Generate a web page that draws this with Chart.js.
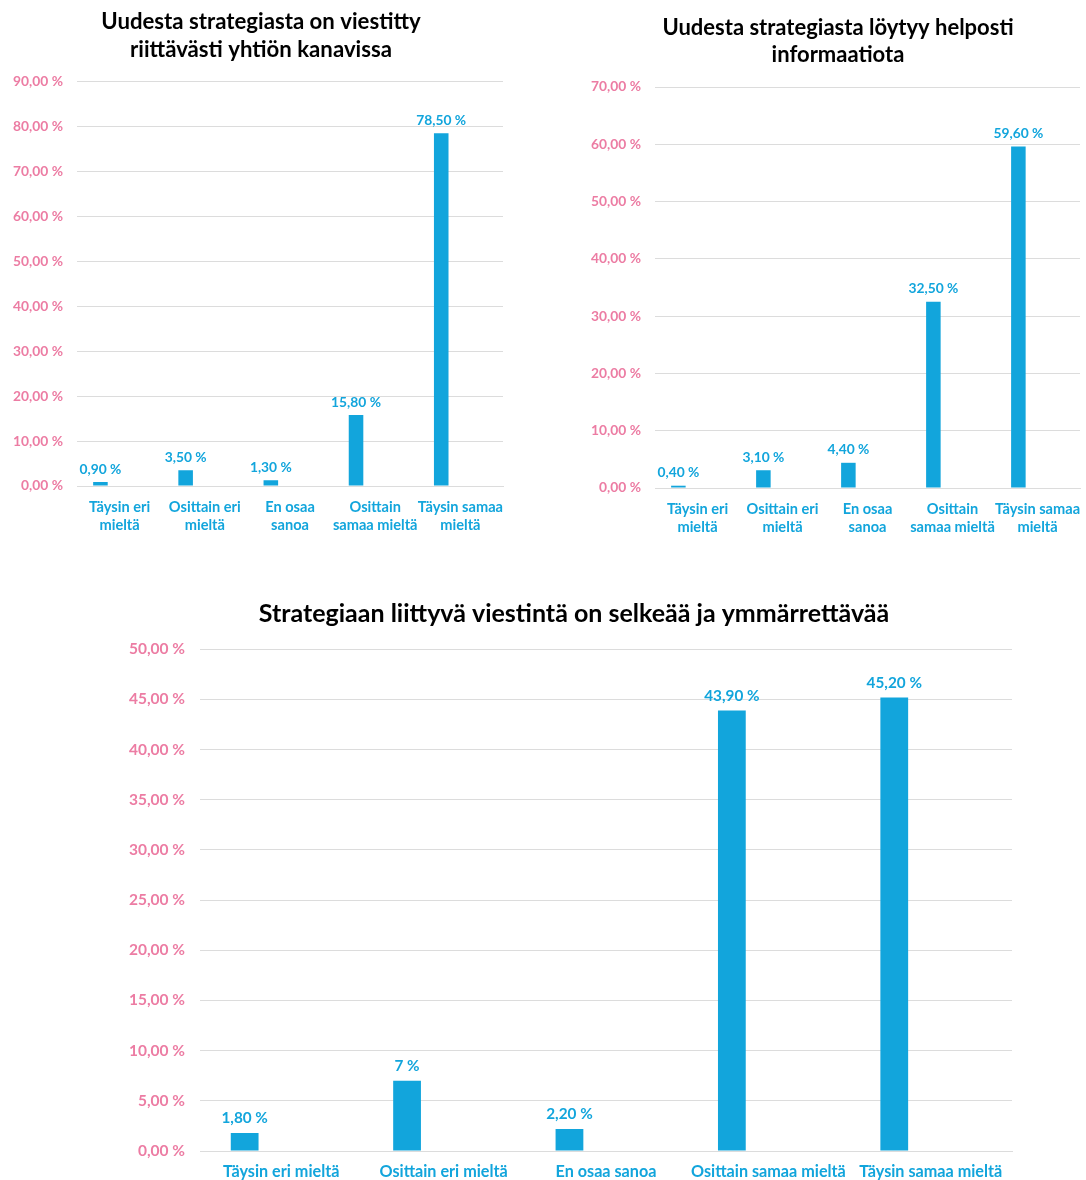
<!DOCTYPE html>
<html>
<head>
<meta charset="utf-8">
<script src="https://cdn.jsdelivr.net/npm/chart.js@4/dist/chart.umd.min.js"></script>
<style>
  html, body { margin: 0; padding: 0; background: #ffffff; }
  body { width: 1086px; height: 1180px; position: relative; overflow: hidden; }
  .box { position: absolute; }
</style>
</head>
<body>
<div class="box" style="left:0px;top:0px;width:520px;height:545px;"><canvas id="c1"></canvas></div>
<div class="box" style="left:560px;top:0px;width:526px;height:545px;"><canvas id="c2"></canvas></div>
<div class="box" style="left:0px;top:560px;width:1086px;height:620px;"><canvas id="c3"></canvas></div>
<script>
// ---- Data ----
const titles1 = ["Uudesta strategiasta on viestitty", "riittävästi yhtiön kanavissa"];
const titles2 = ["Uudesta strategiasta löytyy helposti", "informaatiota"];
const titles3 = "Strategiaan liittyvä viestintä on selkeää ja ymmärrettävää";

const categoriesTwoLine = [
  ["Täysin eri", "mieltä"],
  ["Osittain eri", "mieltä"],
  ["En osaa", "sanoa"],
  ["Osittain", "samaa mieltä"],
  ["Täysin samaa", "mieltä"]
];
const categoriesOneLine = ["Täysin eri mieltä", "Osittain eri mieltä", "En osaa sanoa", "Osittain samaa mieltä", "Täysin samaa mieltä"];

const values1 = [0.9, 3.5, 1.3, 15.8, 78.5];
const values2 = [0.4, 3.1, 4.4, 32.5, 59.6];
const values3 = [1.8, 7, 2.2, 43.9, 45.2];

const valueLabels1 = ["0,90 %", "3,50 %", "1,30 %", "15,80 %", "78,50 %"];
const valueLabels2 = ["0,40 %", "3,10 %", "4,40 %", "32,50 %", "59,60 %"];
const valueLabels3 = ["1,80 %", "7 %", "2,20 %", "43,90 %", "45,20 %"];

const emptySeries = [null, null, null, null, null];

// ---- Styling ----
const BLUE = "#12a5dc";
const PINK = "#ec7ca3";
const GRID = "#dcdcdc";
const FONT = "Lato, 'Open Sans', sans-serif";

const valueLabelPlugin = {
  id: 'valueLabels',
  afterDatasetsDraw(chart, args, opts) {
    const ctx = chart.ctx;
    const meta = chart.getDatasetMeta(0);
    const labels = opts.labels || [];
    ctx.save();
    ctx.fillStyle = BLUE;
    ctx.font = "bold " + opts.size + "px " + FONT;
    ctx.textAlign = "center";
    ctx.textBaseline = "bottom";
    meta.data.forEach((bar, i) => {
      ctx.fillText(labels[i], bar.x, bar.y - opts.offset);
    });
    ctx.restore();
  }
};

// shifts the title block horizontally so it is centred like the original
const titleShiftPlugin = {
  id: 'titleShift',
  afterLayout(chart, args, opts) {
    const tb = chart.titleBlock;
    if (tb && opts.dx) { tb.left += opts.dx; tb.right += opts.dx; }
  }
};

function fmtTick(v) {
  return v.toFixed(2).replace('.', ',') + ' %';
}

function makeChart(id, cfg) {
  return new Chart(document.getElementById(id), {
    type: 'bar',
    data: {
      labels: cfg.categories,
      datasets: [
        { label: 'Sarja 1', data: cfg.values, backgroundColor: BLUE, borderWidth: 0,
          categoryPercentage: 0.9, barPercentage: 0.38 },
        { label: 'Sarja 2', data: emptySeries, backgroundColor: BLUE, borderWidth: 0,
          categoryPercentage: 0.9, barPercentage: 0.38 }
      ]
    },
    options: {
      responsive: true,
      maintainAspectRatio: false,
      animation: false,
      layout: { padding: cfg.padding },
      plugins: {
        legend: { display: false },
        tooltip: { enabled: false },
        title: {
          display: true,
          text: cfg.title,
          color: '#000000',
          font: { family: FONT, size: cfg.titleSize, weight: 'bold', lineHeight: cfg.titleLH },
          padding: cfg.titlePadding
        },
        titleShift: { dx: cfg.titleDx },
        valueLabels: { labels: cfg.valueLabels, size: cfg.valueSize, offset: cfg.labelOffset }
      },
      scales: {
        x: {
          grid: { display: false, drawTicks: false },
          border: { display: true, color: GRID, width: 1 },
          ticks: {
            color: BLUE, maxRotation: 0, autoSkip: false, padding: cfg.xPad,
            font: { family: FONT, size: cfg.labelSize, weight: 'bold', lineHeight: cfg.xLH }
          },
          afterFit(scale) {
            scale.height = cfg.xHeight;
            scale.paddingLeft = 0;
            scale.paddingRight = 0;
          }
        },
        y: {
          min: 0, max: cfg.max,
          grid: { color: GRID, lineWidth: 1, drawTicks: false },
          border: { display: false },
          ticks: {
            stepSize: cfg.step, color: PINK, padding: cfg.yPad,
            font: { family: FONT, size: cfg.tickSize, weight: 'bold' },
            callback: (v) => fmtTick(v)
          },
          afterFit(scale) { scale.width = cfg.yWidth; }
        }
      }
    },
    plugins: [valueLabelPlugin, titleShiftPlugin]
  });
}

makeChart('c1', {
  categories: categoriesTwoLine, values: values1, valueLabels: valueLabels1,
  title: titles1, titleSize: 22.2, titleLH: 1.25, titlePadding: { top: 8, bottom: 18 }, titleDx: 9.5,
  padding: { left: 0, right: 17, top: 0, bottom: 0 },
  max: 90, step: 10, yWidth: 77, yPad: 14, xPad: 12, xHeight: 59, xLH: 1.25,
  tickSize: 13.8, labelSize: 14.6, valueSize: 13.8, labelOffset: 6
});

makeChart('c2', {
  categories: categoriesTwoLine, values: values2, valueLabels: valueLabels2,
  title: titles2, titleSize: 22, titleLH: 1.25, titlePadding: { top: 14, bottom: 18 }, titleDx: 18,
  padding: { left: 0, right: 6, top: 0, bottom: 0 },
  max: 70, step: 10, yWidth: 95, yPad: 14, xPad: 12, xHeight: 57, xLH: 1.25,
  tickSize: 13.8, labelSize: 14.6, valueSize: 13.8, labelOffset: 6
});

makeChart('c3', {
  categories: categoriesOneLine, values: values3, valueLabels: valueLabels3,
  title: titles3, titleSize: 25, titleLH: 1.25, titlePadding: { top: 38, bottom: 20 }, titleDx: 68,
  padding: { left: 0, right: 74, top: 0, bottom: 0 },
  max: 50, step: 5, yWidth: 200, yPad: 15, xPad: 11, xHeight: 29, xLH: 1.2,
  tickSize: 15.5, labelSize: 16.2, valueSize: 15.3, labelOffset: 7
});
</script>
</body>
</html>
